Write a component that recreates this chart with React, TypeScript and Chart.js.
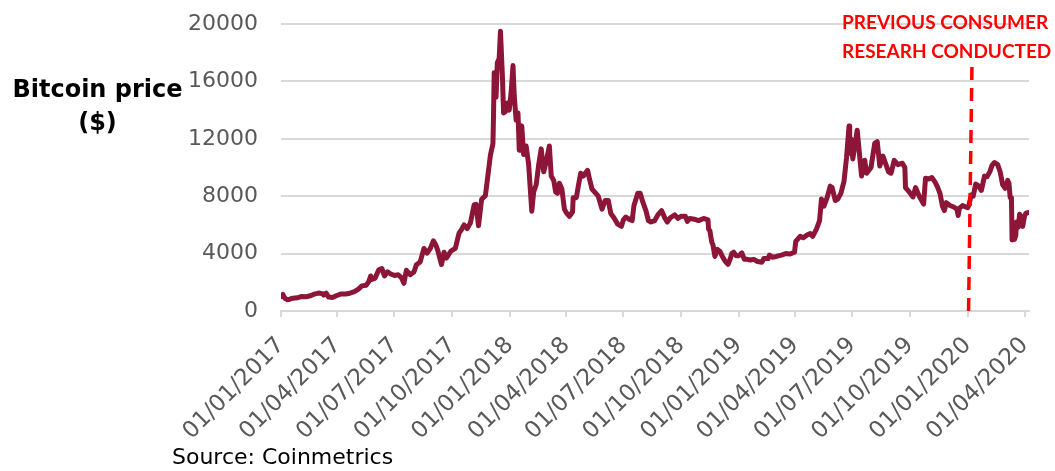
import React, { useEffect, useRef } from "react";
import { Chart, registerables } from "chart.js";

Chart.register(...registerables);

const dates2017 = [
  "2017-01-01","2017-01-04","2017-01-07","2017-01-11","2017-01-15","2017-01-20","2017-01-27","2017-02-03","2017-02-10","2017-02-17","2017-02-23","2017-03-02","2017-03-09","2017-03-10","2017-03-14","2017-03-18","2017-03-24","2017-03-31","2017-04-07","2017-04-14","2017-04-21","2017-04-28","2017-05-04","2017-05-10","2017-05-17","2017-05-21","2017-05-24","2017-05-26","2017-05-31","2017-06-06","2017-06-11","2017-06-15","2017-06-20","2017-06-25","2017-07-01","2017-07-07","2017-07-12","2017-07-16","2017-07-20","2017-07-26","2017-08-01","2017-08-05","2017-08-11","2017-08-17","2017-08-22","2017-08-27","2017-09-01","2017-09-05","2017-09-08","2017-09-14","2017-09-18","2017-09-22","2017-09-29","2017-10-06","2017-10-12","2017-10-16","2017-10-20","2017-10-25","2017-10-30","2017-11-05","2017-11-08","2017-11-12","2017-11-17","2017-11-23","2017-11-28","2017-12-01","2017-12-05","2017-12-06","2017-12-07","2017-12-10","2017-12-12","2017-12-15","2017-12-17","2017-12-20","2017-12-22","2017-12-25","2017-12-28","2017-12-31",
];
const prices2017 = [
  1000,1150,900,780,820,895,920,1015,995,1060,1175,1250,1195,1110,1245,970,940,1080,1190,1180,1240,1345,1510,1750,1800,2050,2440,2200,2290,2870,2960,2440,2730,2580,2480,2520,2330,1930,2840,2530,2720,3230,3420,4360,4030,4350,4890,4600,4230,3240,4100,3690,4180,4370,5430,5680,6000,5740,6130,7390,7440,5950,7790,8040,9800,10860,11650,13700,16600,14900,17300,17600,19500,16500,13800,13900,14500,14000,
];

const dates2018 = [
  "2018-01-03","2018-01-06","2018-01-08","2018-01-11","2018-01-14","2018-01-16","2018-01-20","2018-01-23","2018-01-27","2018-01-31","2018-02-02","2018-02-05","2018-02-08","2018-02-12","2018-02-16","2018-02-20","2018-02-24","2018-02-28","2018-03-05","2018-03-08","2018-03-12","2018-03-15","2018-03-18","2018-03-21","2018-03-25","2018-03-29","2018-04-01","2018-04-06","2018-04-11","2018-04-12","2018-04-17","2018-04-21","2018-04-24","2018-04-28","2018-05-05","2018-05-08","2018-05-12","2018-05-16","2018-05-22","2018-05-28","2018-06-02","2018-06-07","2018-06-11","2018-06-16","2018-06-22","2018-06-28","2018-07-01","2018-07-05","2018-07-10","2018-07-15","2018-07-18","2018-07-24","2018-07-28","2018-08-01","2018-08-06","2018-08-10","2018-08-14","2018-08-20","2018-08-25","2018-08-31","2018-09-05","2018-09-09","2018-09-14","2018-09-21","2018-09-26","2018-10-01","2018-10-08","2018-10-11","2018-10-15","2018-10-22","2018-10-29","2018-11-06","2018-11-13","2018-11-14","2018-11-16","2018-11-19","2018-11-21","2018-11-24","2018-11-28","2018-12-02","2018-12-06","2018-12-10","2018-12-15","2018-12-19","2018-12-21","2018-12-24","2018-12-28",
];
const prices2018 = [
  15200,17100,15000,13300,13800,11200,12900,10900,11500,10200,8900,6950,8300,8800,10200,11300,9700,10400,11500,9400,9100,8300,8200,8900,8500,7100,6850,6600,6900,7900,7900,8900,9600,9400,9800,9200,8500,8300,8000,7100,7700,7700,6800,6500,6050,5900,6350,6550,6400,6300,7350,8200,8200,7600,7000,6300,6200,6300,6700,7000,6500,6200,6500,6700,6450,6600,6600,6250,6450,6400,6300,6450,6350,5700,5600,4800,4600,3800,4300,4150,3800,3500,3250,3700,4000,4100,3850,
];

const dates2019 = [
  "2019-01-01","2019-01-06","2019-01-10","2019-01-15","2019-01-20","2019-01-25","2019-01-31","2019-02-07","2019-02-10","2019-02-17","2019-02-19","2019-02-24","2019-03-02","2019-03-10","2019-03-17","2019-03-24","2019-03-31","2019-04-02","2019-04-09","2019-04-14","2019-04-20","2019-04-25","2019-04-29","2019-05-05","2019-05-10","2019-05-13","2019-05-17","2019-05-22","2019-05-27","2019-05-30","2019-06-04","2019-06-08","2019-06-13","2019-06-18","2019-06-22","2019-06-26","2019-06-27","2019-06-29","2019-07-02","2019-07-09","2019-07-14","2019-07-16","2019-07-21","2019-07-24","2019-07-31","2019-08-06","2019-08-10","2019-08-14","2019-08-19","2019-08-28","2019-09-01","2019-09-06","2019-09-12","2019-09-19","2019-09-23","2019-09-24","2019-09-30","2019-10-06","2019-10-10","2019-10-16","2019-10-23","2019-10-25","2019-10-26","2019-10-31","2019-11-05","2019-11-10","2019-11-14","2019-11-18","2019-11-22","2019-11-25","2019-11-28","2019-12-04","2019-12-10","2019-12-15","2019-12-17","2019-12-19","2019-12-24","2019-12-29",
];
const prices2019 = [
  3850,4050,3600,3600,3550,3600,3450,3400,3650,3650,3900,3750,3800,3900,4000,3970,4100,4850,5200,5100,5300,5400,5200,5700,6300,7800,7300,7900,8700,8600,7700,7800,8200,9050,10700,12900,11000,12000,10600,12600,10300,9400,10500,9600,10000,11700,11800,10100,10800,9700,9600,10500,10200,10300,10000,8600,8300,7950,8600,8000,7450,8700,9250,9200,9300,9000,8650,8200,7300,7000,7550,7350,7250,7100,6650,7150,7350,7250,
];

const dates2020 = [
  "2020-01-01","2020-01-03","2020-01-07","2020-01-10","2020-01-14","2020-01-19","2020-01-23","2020-01-28","2020-02-01","2020-02-06","2020-02-09","2020-02-13","2020-02-18","2020-02-22","2020-02-26","2020-03-01","2020-03-05","2020-03-07","2020-03-09","2020-03-11","2020-03-12","2020-03-16","2020-03-18","2020-03-19","2020-03-22","2020-03-24","2020-03-29","2020-04-01","2020-04-03","2020-04-06",
];
const prices2020 = [
  7200,7350,8100,8000,8850,8700,8400,9400,9350,9750,10150,10350,10200,9700,8800,8550,9100,8900,7900,7900,4950,5000,5300,6200,5850,6750,5900,6650,6800,6850,
];

const tickDates = [
  "2017-01-01","2017-04-01","2017-07-01","2017-10-01","2018-01-01","2018-04-01","2018-07-01","2018-10-01","2019-01-01","2019-04-01","2019-07-01","2019-10-01","2020-01-01","2020-04-01",
];
const yTicks = [0, 4000, 8000, 12000, 16000, 20000];
const researchDate = "2020-01-01";
const axisEndDate = "2020-04-08";

const START = Date.UTC(2017, 0, 1);
const toDay = (s: string) => {
  const [y, m, d] = s.split("-").map(Number);
  return Math.round((Date.UTC(y, m - 1, d) - START) / 86400000);
};
const fmt = (s: string) => {
  const [y, m, d] = s.split("-");
  return `${d}/${m}/${y}`;
};

const allDates = [...dates2017, ...dates2018, ...dates2019, ...dates2020];
const allPrices = [...prices2017, ...prices2018, ...prices2019, ...prices2020];

const researchLine = {
  id: "researchLine",
  afterDatasetsDraw(chart: any) {
    const x = chart.scales.x;
    const y = chart.scales.y;
    const ctx = chart.ctx;
    const d = toDay(researchDate);
    ctx.save();
    ctx.strokeStyle = "#FF0000";
    ctx.lineWidth = 3.5;
    ctx.setLineDash([13, 8]);
    ctx.beginPath();
    ctx.moveTo(x.getPixelForValue(d) + 1, y.getPixelForValue(0));
    ctx.lineTo(x.getPixelForValue(d + 7), y.getPixelForValue(17100));
    ctx.stroke();
    ctx.restore();
  },
};

export default function App() {
  const ref = useRef<HTMLCanvasElement>(null);
  useEffect(() => {
    if (!ref.current) return;
    const tickDays = tickDates.map(toDay);
    const chart = new Chart(ref.current, {
      type: "line",
      data: {
        datasets: [
          {
            label: "Bitcoin price",
            data: allDates.map((d, i) => ({ x: toDay(d), y: allPrices[i] })),
            borderColor: "#8C1538",
            borderWidth: 5,
            pointRadius: 0,
            tension: 0,
            borderJoinStyle: "round",
            borderCapStyle: "round",
          },
        ],
      },
      options: {
        animation: false,
        responsive: false,
        maintainAspectRatio: false,
        layout: { padding: { left: 0, right: 26, top: 24, bottom: 0 } },
        plugins: { legend: { display: false }, tooltip: { enabled: false } },
        scales: {
          x: {
            type: "linear",
            min: 0,
            max: toDay(axisEndDate),
            afterBuildTicks: (scale: any) => {
              scale.ticks = tickDays.map((v) => ({ value: v }));
            },
            afterFit: (scale: any) => {
              scale.height = 160;
              scale.paddingLeft = 0;
              scale.paddingRight = 0;
            },
            ticks: {
              autoSkip: false,
              minRotation: 45,
              maxRotation: 45,
              padding: 15,
              color: "#595959",
              font: { family: "DejaVu Sans", size: 23 },
              callback: (v: any) => {
                const i = tickDays.indexOf(v);
                return i >= 0 ? fmt(tickDates[i]) : "";
              },
            },
            grid: {
              drawOnChartArea: false,
              drawTicks: true,
              tickLength: 6,
              color: "#d9d9d9",
              lineWidth: 2,
            },
            border: { display: true, color: "#d9d9d9", width: 2 },
          },
          y: {
            min: 0,
            max: 20000,
            afterBuildTicks: (scale: any) => {
              scale.ticks = yTicks.map((v) => ({ value: v }));
            },
            afterFit: (scale: any) => {
              scale.width = 281;
              scale.paddingTop = 0;
              scale.paddingBottom = 0;
            },
            ticks: {
              padding: 23,
              color: "#595959",
              font: { family: "DejaVu Sans", size: 22 },
              callback: (v: any) => String(v),
            },
            grid: { color: "#d9d9d9", lineWidth: 2, drawTicks: false },
            border: { display: false },
          },
        },
      },
      plugins: [researchLine],
    });
    return () => chart.destroy();
  }, []);

  return (
    <div style={{ position: "fixed", left: 0, top: 0, width: 1055, height: 471, background: "#fff" }}>
      <canvas ref={ref} width={1055} height={471} style={{ position: "absolute", left: 0, top: 0 }} />
      <div
        style={{
          position: "absolute",
          left: 0,
          width: 195,
          top: 73,
          textAlign: "center",
          fontFamily: "DejaVu Sans",
          fontWeight: "bold",
          fontSize: 24,
          lineHeight: "33px",
          color: "#000",
        }}
      >
        Bitcoin price
        <br />($)
      </div>
      <div
        style={{
          position: "absolute",
          left: 842,
          top: 7,
          fontFamily: "Lato",
          fontWeight: 700,
          fontSize: 19,
          lineHeight: "29px",
          color: "#FF0000",
          whiteSpace: "nowrap",
        }}
      >
        PREVIOUS CONSUMER
        <br />
        RESEARH CONDUCTED
      </div>
      <div
        style={{
          position: "absolute",
          left: 172,
          top: 444,
          fontFamily: "DejaVu Sans",
          fontSize: 22,
          color: "#000",
          whiteSpace: "nowrap",
        }}
      >
        Source: Coinmetrics
      </div>
    </div>
  );
}
